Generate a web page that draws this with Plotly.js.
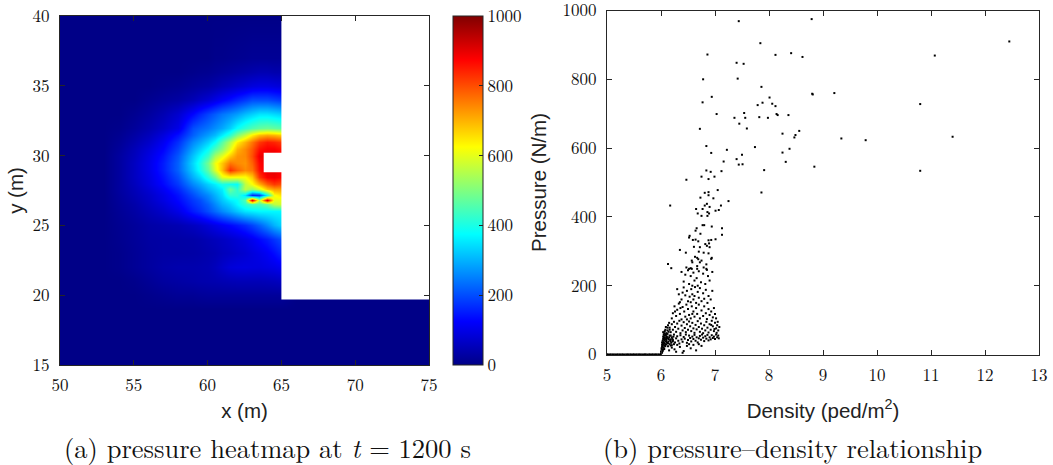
<!DOCTYPE html>
<html>
<head>
<meta charset="utf-8">
<script src="https://cdn.plot.ly/plotly-3.0.1.min.js"></script>
<style>html,body{margin:0;padding:0;background:#fff;} #chart{width:1053px;height:465px;}</style>
</head>
<body>
<div id="chart"></div>
<script>
// ---------- (a) pressure heatmap grid (N/m) ----------
const heatX = [50, 53, 54, 55, 56, 57, 58, 59, 59.5, 60, 60.5, 61, 61.5, 62, 62.5, 63, 63.5, 64, 64.5, 65, 66, 75];
const heatY = [15, 19, 20, 21, 22, 23, 24, 25, 26, 26.5, 26.8, 27.2, 27.6, 28, 28.5, 29, 29.5, 30, 30.5, 31, 31.5, 32, 33, 34, 35, 36, 37, 40];
const pressureGrid = [
  [0,0,0,0,0,0,0,0,0,0,0,0,0,0,0,0,0,0,0,0,0,0],
  [0,0,0,0,0,0,0,0,0,0,0,0,0,0,0,0,0,0,0,0,0,0],
  [0,0,0,0,5,10,15,15,18,20,20,20,20,20,20,20,20,20,20,20,0,0],
  [0,0,0,5,15,25,30,35,38,40,42,45,48,50,50,50,50,52,55,60,0,0],
  [0,0,5,15,25,35,40,40,42,45,55,70,85,90,92,90,90,95,100,110,0,0],
  [0,0,5,15,25,30,30,32,35,40,45,55,62,70,78,90,100,115,135,160,0,0],
  [0,0,8,18,28,30,32,35,40,48,55,62,72,82,95,110,130,150,175,200,0,0],
  [0,0,10,20,32,38,45,60,70,85,100,115,130,145,165,190,220,260,300,330,0,0],
  [0,0,15,30,50,70,100,150,170,200,230,260,290,320,350,360,370,370,370,370,0,0],
  [0,0,18,35,60,85,120,170,190,220,260,300,330,370,420,450,450,480,560,580,0,0],
  [0,0,20,40,65,95,130,180,200,240,280,320,360,380,450,900,550,900,600,600,0,0],
  [0,0,22,45,70,100,140,200,230,260,300,340,420,420,350,160,180,380,620,650,0,0],
  [0,0,25,50,80,115,160,230,260,300,330,360,480,420,560,520,580,680,720,720,0,0],
  [0,0,25,55,90,130,180,260,290,330,360,400,390,380,560,620,700,780,820,800,0,0],
  [0,0,25,60,95,140,200,300,340,410,480,600,620,620,620,680,820,880,890,870,0,0],
  [0,0,25,60,100,150,220,330,390,470,590,690,830,780,740,760,860,900,900,880,0,0],
  [0,0,25,60,100,150,220,340,400,490,610,680,760,740,730,780,870,900,900,880,0,0],
  [0,0,25,55,95,140,210,320,370,430,540,600,680,730,740,800,890,900,900,880,0,0],
  [0,0,20,50,85,125,190,290,330,380,450,510,600,700,740,790,860,880,880,860,0,0],
  [0,0,15,40,70,110,170,260,290,330,380,460,550,640,700,760,820,850,840,820,0,0],
  [0,0,10,30,55,90,140,220,250,280,310,360,420,500,570,640,690,710,700,680,0,0],
  [0,0,5,20,40,65,100,200,220,240,265,290,330,380,420,450,470,480,470,460,0,0],
  [0,0,0,10,25,45,75,130,160,190,215,240,260,280,310,330,350,350,340,330,0,0],
  [0,0,0,0,10,20,30,50,65,80,100,120,140,160,180,200,200,200,190,180,0,0],
  [0,0,0,0,0,5,10,20,25,30,40,50,60,70,80,90,95,95,90,85,0,0],
  [0,0,0,0,0,0,0,5,8,10,15,20,25,30,35,40,45,45,40,40,0,0],
  [0,0,0,0,0,0,0,0,0,0,5,5,8,10,12,15,15,15,15,15,0,0],
  [0,0,0,0,0,0,0,0,0,0,0,0,0,0,0,0,0,0,0,0,0,0]
];
// obstacle (blank area) outline in metres
const obstacleX = [65, 75, 75, 65, 65, 63.8, 63.8, 65, 65];
const obstacleY = [19.7, 19.7, 40, 40, 30.2, 30.2, 28.8, 28.8, 19.7];

const heatXTicks = [50, 55, 60, 65, 70, 75];
const heatYTicks = [15, 20, 25, 30, 35, 40];
const colorTicks = [0, 200, 400, 600, 800, 1000];

// ---------- (b) pressure-density scatter ----------
const upperDensity = [7.44,8.79,12.45,7.84,6.86,8.12,8.41,8.62,11.07,7.40,
  7.53,6.78,7.42,7.86,8.80,8.81,9.21,6.94,6.77,8.01,
  7.79,7.88,8.06,8.12,10.80,7.03,7.54,7.36,7.56,7.82,
  7.98,8.14,8.16,8.36,7.45,7.59,6.72,8.25,8.49,8.47,
  8.56,9.34,9.79,11.40,6.84,6.93,7.22,7.74,7.50,7.40,
  7.44,7.51,8.25,8.38,8.31,7.16,7.91,8.84,10.80,6.84,
  6.92,7.12,6.75,6.88,6.99,6.47,7.86,6.81,6.88,7.05,
  6.88,6.73,6.97];
const upperPressure = [969,975,910,905,872,871,876,865,869,848,
  845,800,802,778,758,756,760,749,733,747,
  725,732,729,722,728,699,702,688,688,690,
  688,699,696,696,671,657,656,642,638,631,
  650,628,623,633,606,586,595,603,581,568,
  552,553,587,598,560,561,536,546,534,535,
  531,533,517,510,517,508,471,470,472,478,
  463,456,454];

const midDensity = [7.25,6.85,6.17,7.11,6.90,6.81,6.65,6.77,7.01,7.07,
  6.68,6.86,6.89,6.75,6.86,6.77,6.80,6.94,7.13,6.66,
  6.64,6.73,6.53,6.52,7.13,6.59,6.64,6.69,6.88,6.93,
  7.01,6.61,6.72,6.82,6.85,6.89,6.90,6.35,6.46,6.70,
  6.79,6.88,6.63,6.67,6.69,6.94,6.57,6.58,6.75,6.72,
  6.93,6.84,6.13,6.19,6.47,6.52,6.55,6.57,6.67,6.67,
  6.79,6.84];
const midPressure = [446,438,433,433,429,433,423,423,418,420,
  410,414,410,403,403,376,376,372,367,367,
  360,351,345,340,348,333,334,329,332,333,
  335,313,312,321,316,323,312,304,296,299,
  296,294,284,281,277,281,273,268,273,268,
  278,262,263,251,253,249,251,249,257,249,
  253,249];

const coreDensity = [
  6.38,6.45,6.50,6.55,6.60,6.62,6.66,6.70,6.74,6.78,6.82,6.87,6.90,6.95,6.42,6.52,6.58,6.68,6.85,
  6.30,6.33,6.38,6.42,6.45,6.48,6.50,6.53,6.56,6.58,6.60,6.63,6.65,6.68,6.70,6.72,6.75,6.78,6.80,6.83,6.86,6.88,6.92,6.95,6.35,6.40,6.55,6.62,
  6.20,6.22,6.25,6.28,6.30,6.33,6.35,6.38,6.40,6.43,6.45,6.47,6.50,6.52,6.55,6.57,6.60,6.62,6.65,6.67,6.70,6.72,6.75,6.78,6.80,6.83,6.85,6.88,6.90,6.93,6.96,6.98,7.00,7.02,6.26,6.36,6.48,6.58,
  6.10,6.12,6.13,6.15,6.16,6.18,6.20,6.22,6.24,6.26,6.28,6.30,6.32,6.34,6.36,6.38,6.40,6.42,6.44,6.46,6.48,6.50,6.52,6.54,6.56,6.58,6.60,6.62,6.64,6.66,6.68,6.70,6.72,6.74,6.76,6.78,6.80,6.82,6.84,6.86,6.88,6.90,6.92,6.94,6.96,6.98,7.00,7.02,7.04,7.06,7.08,7.05,7.03,6.99,6.93,
  6.05,6.07,6.08,6.10,6.11,6.13,6.14,6.16,6.18,6.20,6.22,6.24,6.26,6.28,6.30,6.32,6.34,6.36,6.38,6.40,6.42,6.44,6.46,6.48,6.50,6.52,6.54,6.56,6.58,6.60,6.62,6.64,6.66,6.68,6.70,6.72,6.74,6.76,6.78,6.80,6.82,6.84,6.86,6.88,6.90,6.92,6.94,6.96,6.98,7.00,7.02,7.04,7.06,7.07,
  6.25,6.35,6.42,6.48,6.55,6.60,6.65,6.30,6.20,6.15,6.40,6.70,6.75,6.18,6.28,6.52,
  6.08,6.10,6.11,6.12,6.13,6.14,6.15,6.16,6.17,6.18,6.19,6.20,6.21,6.22,6.23,6.24,6.12,6.14,6.16,6.18
];
const corePressure = [
  240,232,245,228,238,215,222,242,210,235,205,228,215,240,212,205,200,200,246,
  190,175,160,195,172,185,155,168,190,175,160,196,150,182,165,193,155,178,162,188,150,170,160,185,152,180,152,170,
  105,120,140,112,130,148,118,102,138,125,110,145,132,115,105,140,125,110,135,118,145,105,128,112,140,120,103,132,115,125,108,135,118,105,125,135,102,118,
  62,70,85,92,78,65,88,72,95,80,66,90,75,98,62,84,70,94,77,65,88,72,96,82,68,92,76,63,86,73,97,80,66,90,75,62,85,70,95,78,64,88,72,98,82,68,92,76,85,70,80,95,63,74,86,
  35,48,58,40,52,33,45,55,38,50,42,58,35,47,53,40,32,56,44,37,51,46,58,34,42,55,48,38,52,45,57,40,50,35,47,54,43,58,49,39,53,46,57,41,50,44,56,48,52,45,58,50,55,47,
  15,22,10,25,18,28,12,28,20,12,5,30,25,26,8,30,
  28,45,35,60,24,38,50,30,42,55,34,27,46,38,52,30,78,66,72,44
];

const streakDensity = [6.00,6.00,6.01,6.01,6.01,6.02,6.02,6.02,6.02,6.03,
  6.03,6.03,6.03,6.04,6.04,6.04,6.04,6.05,6.05,6.05,
  6.05,6.06,6.06,6.06,6.06,6.07,6.07,6.07,6.08,6.08,
  6.08,6.09,6.09,6.09,6.10,6.10,6.11,6.02,6.04,6.06];
const streakPressure = [2,8,4,12,18,6,15,22,28,10,
  25,33,40,14,30,45,52,20,36,48,
  58,16,26,42,62,32,50,68,24,44,
  72,38,55,80,30,60,48,35,65,55];

const floorDensity = [5.00,5.02,5.05,5.07,5.10,5.12,5.15,5.18,5.20,5.23,5.25,5.28,5.30,5.33,5.36,5.38,5.40,5.43,5.45,5.48,
  5.50,5.53,5.55,5.58,5.60,5.62,5.65,5.68,5.70,5.72,5.75,5.78,5.80,5.83,5.85,5.88,5.90,5.92,5.95,5.97,6.00];
const floorPressure = [0,0,0,0,0,0,0,0,0,0,0,0,0,0,0,0,0,0,0,0,
  0,0,0,0,0,0,0,0,0,0,0,0,0,0,0,0,0,0,0,0,0];

const scatXTicks = [5, 6, 7, 8, 9, 10, 11, 12, 13];
const scatYTicks = [0, 200, 400, 600, 800, 1000];

const density = [].concat(floorDensity, streakDensity, coreDensity, midDensity, upperDensity);
const pressure = [].concat(floorPressure, streakPressure, corePressure, midPressure, upperPressure);

const jet = [[0,'rgb(0,0,135)'],[0.125,'rgb(0,0,255)'],[0.375,'rgb(0,255,255)'],[0.625,'rgb(255,255,0)'],[0.875,'rgb(255,0,0)'],[1,'rgb(128,0,0)']];

const axisColor = '#262626';
const serif = '"Latin Modern Roman", "Liberation Serif", serif';
const sans = '"Liberation Sans", Arial, Helvetica, sans-serif';
const tickFont = {family: serif, size: 17, color: '#111'};

function axisBase(extra) {
  return Object.assign({
    ticks: 'inside', ticklen: 5, tickcolor: axisColor, tickwidth: 1,
    showline: true, linecolor: axisColor, linewidth: 1, mirror: 'allticks',
    showgrid: false, zeroline: false, automargin: false,
    ticklabeloverflow: 'allow', tickfont: tickFont
  }, extra);
}

const traces = [
  {
    type: 'heatmap', x: heatX, y: heatY, z: pressureGrid,
    zsmooth: 'best', colorscale: jet, zmin: 0, zmax: 1000,
    xaxis: 'x', yaxis: 'y', hoverinfo: 'skip',
    colorbar: {
      x: 453/1053, xanchor: 'left', xpad: 0, ypad: 0,
      y: 100/465, yanchor: 'bottom', len: 349/465, lenmode: 'fraction',
      thickness: 30, thicknessmode: 'pixels',
      outlinecolor: axisColor, outlinewidth: 1,
      tickvals: colorTicks, ticks: 'inside', ticklen: 4, tickcolor: axisColor,
      ticklabelstandoff: 4, ticklabeloverflow: 'allow', tickfont: tickFont
    }
  },
  {
    type: 'scatter', mode: 'lines', x: obstacleX, y: obstacleY,
    fill: 'toself', fillcolor: '#ffffff', line: {width: 0, color: '#ffffff'},
    xaxis: 'x', yaxis: 'y', hoverinfo: 'skip', showlegend: false
  },
  {
    type: 'scatter', mode: 'markers', x: density, y: pressure,
    marker: {size: 2, color: '#000', symbol: 'square', line: {width: 0}},
    cliponaxis: false, xaxis: 'x2', yaxis: 'y2', hoverinfo: 'skip', showlegend: false
  }
];

const titleFont = {family: sans, size: 20.5, color: '#222'};
const layout = {
  width: 1053, height: 465,
  margin: {l: 0, r: 0, t: 0, b: 0},
  paper_bgcolor: '#fff', plot_bgcolor: '#fff',
  showlegend: false,
  font: {family: serif, size: 17, color: '#111'},
  xaxis: axisBase({domain: [60/1053, 429/1053], range: [50, 75], tickvals: heatXTicks, anchor: 'y',
    ticklabelstandoff: 5, title: {text: 'x (m)', font: titleFont, standoff: 8}}),
  yaxis: axisBase({domain: [100/465, 449/465], range: [15, 40], tickvals: heatYTicks, anchor: 'x',
    ticklabelstandoff: 6, title: {text: 'y (m)', font: titleFont, standoff: 3}}),
  xaxis2: axisBase({domain: [607/1053, 1039/1053], range: [5, 13], tickvals: scatXTicks, anchor: 'y2',
    ticklabelstandoff: 5, title: {text: 'Density (ped/m<sup>2</sup>)', font: titleFont, standoff: 18}}),
  yaxis2: axisBase({domain: [110.5/465, 454.5/465], range: [0, 1000], tickvals: scatYTicks, anchor: 'x2',
    ticklabelstandoff: 6, title: {text: 'Pressure (N/m)', font: titleFont, standoff: 10}}),
  annotations: [
    {text: '(a) pressure heatmap at <i>t</i> = 1200 s', xref: 'paper', yref: 'paper',
     x: 267/1053, y: 18/465, xanchor: 'center', yanchor: 'middle', showarrow: false,
     font: {family: serif, size: 26.5, color: '#111'}},
    {text: '(b) pressure\u2013density relationship', xref: 'paper', yref: 'paper',
     x: 792/1053, y: 18/465, xanchor: 'center', yanchor: 'middle', showarrow: false,
     font: {family: serif, size: 26.5, color: '#111'}}
  ]
};

Plotly.newPlot('chart', traces, layout, {staticPlot: true, displayModeBar: false});
</script>
</body>
</html>
